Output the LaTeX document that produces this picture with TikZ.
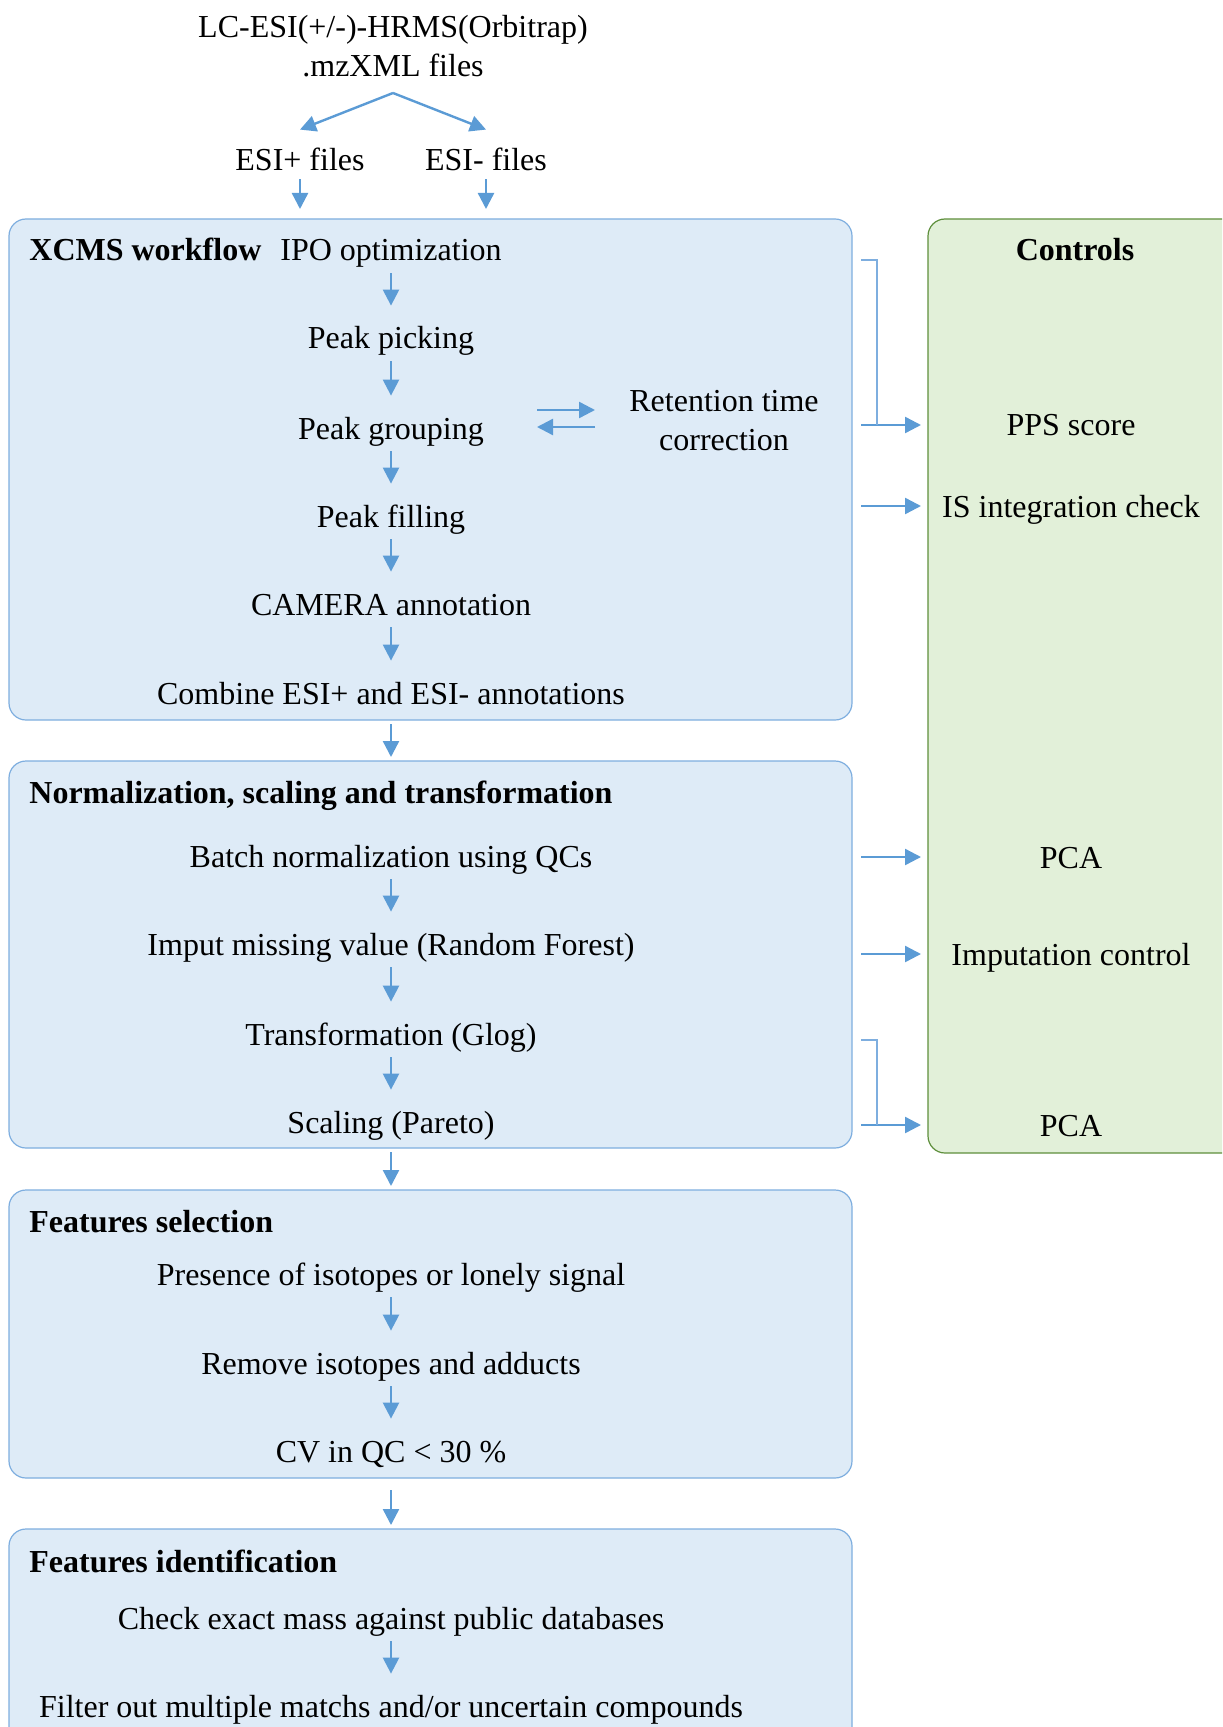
\documentclass[tikz,border=0pt]{standalone}
\usepackage{fontspec}
\setmainfont{Liberation Serif}
\usetikzlibrary{arrows.meta,calc}
\definecolor{flowblue}{HTML}{5B9BD5}
\definecolor{panelfill}{HTML}{DEEBF7}
\definecolor{paneledge}{HTML}{7EAEDF}
\definecolor{ctrlfill}{HTML}{E2F0D9}
\definecolor{ctrledge}{HTML}{5E8F3C}
\tikzstyle{txt}=[inner sep=0pt, text height=15pt, text depth=4pt, font=\fontsize{16}{19.5}\selectfont]
\tikzstyle{multi}=[inner sep=0pt, align=center, font=\fontsize{16}{19.5}\selectfont]
\tikzstyle{head}=[txt, anchor=west, font=\fontsize{16}{19.5}\selectfont\bfseries]
\tikzstyle{panel}=[draw=paneledge, fill=panelfill, line width=0.6pt, rounded corners=8.5pt, anchor=north west, minimum width=421.5pt, inner sep=0pt, outer sep=0pt]
\tikzstyle{ctrlpanel}=[panel, draw=ctrledge, fill=ctrlfill]
\tikzstyle{flow}=[draw=flowblue, line width=1.2pt, -{Triangle[length=8pt,width=8pt]}, shorten <=2pt, shorten >=6.5pt]
\tikzstyle{link}=[flow, shorten <=2pt, shorten >=2pt]
\tikzstyle{side}=[flow, shorten <=4.5pt, shorten >=3.5pt]
\tikzstyle{tick}=[draw=paneledge, line width=0.6pt]

\begin{document}
\begin{tikzpicture}[x=0.5pt, y=-0.5pt]
	\useasboundingbox (0,0) rectangle (1222,1727);
	\clip (0,0) rectangle (1222,1727);
	\node[panel, minimum height=250.5pt] (xcms) at (9,219) {};
	\node[panel, minimum height=193.5pt] (norm) at (9,761) {};
	\node[panel, minimum height=144pt] (fsel) at (9,1190) {};
	\node[panel, minimum height=150pt] (fid) at (9,1529) {};
	\node[ctrlpanel, minimum width=161pt, minimum height=467pt] (ctrl) at (928,219) {};
	\node[multi] (src) at (393,46.5) {LC-ESI(+/-)-HRMS(Orbitrap)\\.mzXML files};
	\coordinate (split) at (393,93);
	\node[txt] (esip) at (300,160) {ESI+ files};
	\node[txt] (esim) at (486,160) {ESI- files};
	\node[head] (xcmshead) at (29,250) {XCMS workflow};
	\node[txt] (ipo) at (391,250) {IPO optimization};
	\node[txt] (pick) at (391,338) {Peak picking};
	\node[txt] (group) at (391,428) {Peak grouping};
	\node[txt] (fill) at (391,516) {Peak filling};
	\node[txt] (camera) at (391,604) {CAMERA annotation};
	\node[txt] (combine) at (391,693) {Combine ESI+ and ESI- annotations};
	\node[multi] (rtc) at (724,421) {Retention time\\correction};
	\node[head] (normhead) at (29,792) {Normalization, scaling and transformation};
	\node[txt] (batch) at (391,856) {Batch normalization using QCs};
	\node[txt] (imput) at (391,944) {Imput missing value (Random Forest)};
	\node[txt] (glog) at (391,1034) {Transformation (Glog)};
	\node[txt] (pareto) at (391,1122) {Scaling (Pareto)};
	\node[head] (fselhead) at (29,1221) {Features selection};
	\node[txt] (iso) at (391,1274) {Presence of isotopes or lonely signal};
	\node[txt] (rmiso) at (391,1363) {Remove isotopes and adducts};
	\node[txt] (cv) at (391,1451) {CV in QC < 30 \%};
	\node[head] (fidhead) at (29,1561) {Features identification};
	\node[txt] (mass) at (391,1618) {Check exact mass against public databases};
	\node[txt] (filt) at (391,1706) {Filter out multiple matchs and/or uncertain compounds};
	\node[head, anchor=center] (ctrlhead) at (1075,250) {Controls};
	\node[txt] (pps) at (1071,425) {PPS score};
	\node[txt] (isc) at (1071,506) {IS integration check};
	\node[txt] (pca) at (1071,857) {PCA};
	\node[txt] (impctl) at (1071,954) {Imputation control};
	\node[txt] (pcb) at (1071,1125) {PCA};
	\draw[flow, shorten <=0pt, shorten >=0pt] (split) -- ([yshift=5.5pt]esip.north);
	\draw[flow, shorten <=0pt, shorten >=0pt] (split) -- ([yshift=5.5pt]esim.north);
	\draw[flow, shorten <=0pt, shorten >=5pt] (esip) -- (esip |- xcms.north);
	\draw[flow, shorten <=0pt, shorten >=5pt] (esim) -- (esim |- xcms.north);
	\draw[flow] (ipo) -- (pick);
	\draw[flow] (pick) -- (group);
	\draw[flow] (group) -- (fill);
	\draw[flow] (fill) -- (camera);
	\draw[flow] (camera) -- (combine);
	\draw[flow, shorten <=0pt, shorten >=0pt] ([shift={(146,-18)}]group.center) -- ([shift={(-129,-11)}]rtc.center);
	\draw[flow, shorten <=0pt, shorten >=0pt] ([shift={(-129,6)}]rtc.center) -- ([shift={(146,-1)}]group.center);
	\draw[link] (xcms.south -| ipo) -- (norm.north -| ipo);
	\draw[flow] (batch) -- (imput);
	\draw[flow] (imput) -- (glog);
	\draw[flow] (glog) -- (pareto);
	\draw[link] (norm.south -| ipo) -- (fsel.north -| ipo);
	\draw[flow] (iso) -- (rmiso);
	\draw[flow] (rmiso) -- (cv);
	\draw[link, shorten <=6pt] (fsel.south -| ipo) -- (fid.north -| ipo);
	\draw[flow] (mass) -- (filt);
	\draw[side] (xcms.east |- pps) -- (ctrl.west |- pps);
	\draw[side] (xcms.east |- isc) -- (ctrl.west |- isc);
	\draw[side] (norm.east |- pca) -- (ctrl.west |- pca);
	\draw[side] (norm.east |- impctl) -- (ctrl.west |- impctl);
	\draw[side] (norm.east |- pcb) -- (ctrl.west |- pcb);
	\draw[tick] ($(xcms.east |- ipo)+(9,10)$) -| ($(xcms.east |- pps)+(25,0)$);
	\draw[tick] ($(norm.east |- glog)+(9,6)$) -| ($(norm.east |- pcb)+(25,0)$);
\end{tikzpicture}
\end{document}
